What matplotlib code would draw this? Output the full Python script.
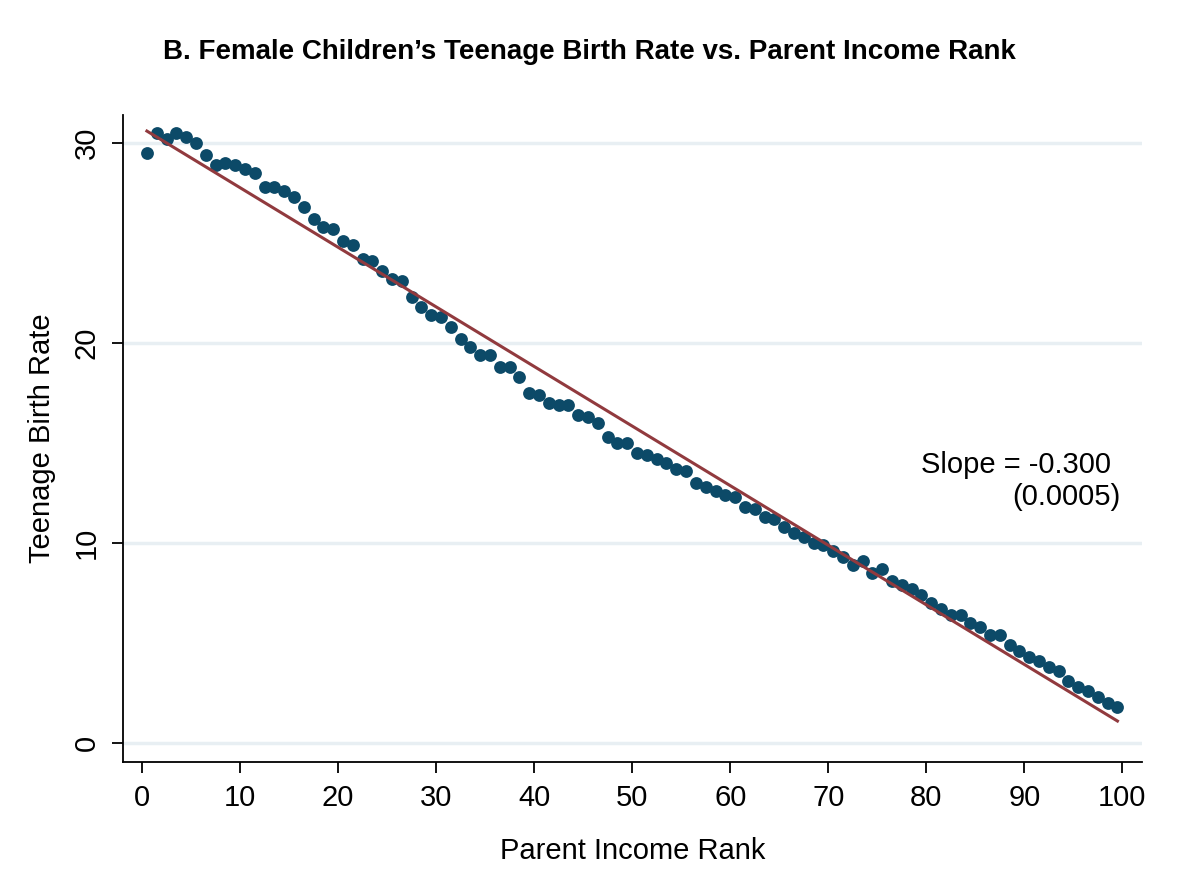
import matplotlib
matplotlib.use("Agg")
import matplotlib.pyplot as plt

# binned scatter: parent income rank (bin centres) vs teenage birth rate
rank = [i + 0.5 for i in range(100)]
birth_rate = [
    29.5, 30.5, 30.2, 30.5, 30.3, 30.0, 29.4, 28.9, 29.0, 28.9,
    28.7, 28.5, 27.8, 27.8, 27.6, 27.3, 26.8, 26.2, 25.8, 25.7,
    25.1, 24.9, 24.2, 24.1, 23.6, 23.2, 23.1, 22.3, 21.8, 21.4,
    21.3, 20.8, 20.2, 19.8, 19.4, 19.4, 18.8, 18.8, 18.3, 17.5,
    17.4, 17.0, 16.9, 16.9, 16.4, 16.3, 16.0, 15.3, 15.0, 15.0,
    14.5, 14.4, 14.2, 14.0, 13.7, 13.6, 13.0, 12.8, 12.6, 12.4,
    12.3, 11.8, 11.7, 11.3, 11.2, 10.8, 10.5, 10.3, 10.0, 9.9,
    9.6, 9.3, 8.9, 9.1, 8.5, 8.7, 8.1, 7.9, 7.7, 7.4,
    7.0, 6.7, 6.4, 6.4, 6.0, 5.8, 5.4, 5.4, 4.9, 4.6,
    4.3, 4.1, 3.8, 3.6, 3.1, 2.8, 2.6, 2.3, 2.0, 1.8,
]

# fitted regression line end points
fit_x = [0.5, 99.5]
fit_y = [30.6, 1.1]

xticks = list(range(0, 101, 10))
yticks = [0, 10, 20, 30]

slope_label = "Slope = -0.300"
se_label = "(0.0005)"

plt.rcParams["font.family"] = ["Liberation Sans", "DejaVu Sans"]

fig = plt.figure(figsize=(11.78, 8.83), dpi=100)
ax = fig.add_axes([0.1044, 0.137, 0.865, 0.7327])

for y in yticks:
    ax.axhline(y, color="#e8eff3", lw=2.5, zorder=0)

ax.scatter(rank, birth_rate, s=85, color="#0c4a68", zorder=3, linewidths=0)
ax.plot(fit_x, fit_y, color="#913a3e", lw=2.2, zorder=4)

ax.set_xlim(-1.94, 102.0)
ax.set_ylim(-0.95, 31.4)
ax.set_xticks(xticks)
ax.set_yticks(yticks)
ax.tick_params(axis="both", labelsize=21, length=8, width=1.3, direction="out", pad=8)
for lab in ax.get_yticklabels():
    lab.set_rotation(90)
    lab.set_va("center")

for side in ["top", "right"]:
    ax.spines[side].set_visible(False)
for side in ["left", "bottom"]:
    ax.spines[side].set_linewidth(1.3)

ax.set_xlabel("Parent Income Rank", fontsize=21, labelpad=18)
ax.set_ylabel("Teenage Birth Rate", fontsize=21, labelpad=12)

ax.text(98.8, 13.9, slope_label, fontsize=21, ha="right", va="center")
ax.text(99.8, 12.3, se_label, fontsize=21, ha="right", va="center")

fig.text(0.5, 0.941, "B. Female Children\u2019s Teenage Birth Rate vs. Parent Income Rank",
         fontsize=20, fontweight="bold", ha="center", va="center")

fig.savefig("out.png", dpi=100, facecolor="white")
